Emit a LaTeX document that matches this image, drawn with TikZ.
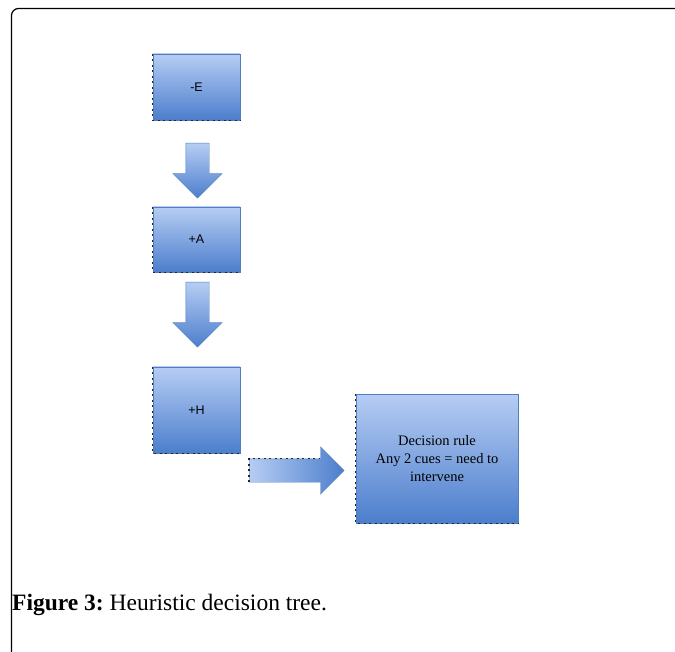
\documentclass[tikz,border=0pt]{standalone}
\usepackage{fontspec}
\setmainfont{Liberation Serif}
\setsansfont{Liberation Sans}
\usetikzlibrary{shapes.arrows}

\definecolor{cuelight}{RGB}{182,205,244}
\definecolor{cuedark}{RGB}{76,126,204}
\definecolor{cueline}{RGB}{80,125,190}

\tikzset{
  cuebox/.style={draw=cueline, top color=cuelight, bottom color=cuedark, line width=0.6pt,
    inner sep=0pt, minimum width=87pt, font=\sffamily\fontsize{12.5}{15}\selectfont},
  downarrow/.style={single arrow, shape border rotate=270, draw=cueline, line width=0.4pt,
    top color=cuelight, bottom color=cuedark, inner sep=11.5pt, anchor=tail,
    single arrow head extend=13pt, single arrow head indent=0pt, minimum height=55pt},
  rightarrow/.style={single arrow, draw=cueline, line width=0.4pt,
    left color=cuelight, right color=cuedark, inner sep=11.5pt, anchor=tail,
    single arrow head extend=12pt, single arrow head indent=0pt, minimum height=95pt},
  shadowline/.style={line width=1.3pt, dash pattern=on 2pt off 3.5pt, black!85}
}

\begin{document}
\begin{tikzpicture}[x=1pt, y=-1pt]
  \useasboundingbox (0,0) rectangle (675,652);
  % frame
  \draw[line width=1.2pt, rounded corners=7pt] (680,8.5) -- (11.5,8.5) -- (11.5,660);

  % cue boxes
  \node[cuebox, minimum height=66pt] (minusE) at (196.5,87) {-E};
  \node[cuebox, minimum height=65pt] (plusA) at (196.5,239.5) {+A};
  \node[cuebox, minimum height=86pt] (plusH) at (196.5,410) {+H};
  \node[cuebox, minimum width=162pt, minimum height=129pt, align=center,
    font=\fontsize{14.5}{18}\selectfont] (rule) at (437,458.5)
    {Decision rule\\Any 2 cues = need to\\intervene};

  % block arrows
  \node[downarrow] (arrowEA) at (197.5,143) {};
  \node[downarrow, minimum height=65pt] (arrowAH) at (197.5,282) {};
  \node[rightarrow] (arrowHR) at (249,470.5) {};

  % dotted edges
  \foreach \b in {minusE,plusA,plusH,rule}
    \draw[shadowline] (\b.north west) -- (\b.south west) -- (\b.south east);
  \draw[shadowline] (arrowHR.before tail) -- (arrowHR.after tail) -- (arrowHR.before head);

  % caption
  \node[anchor=base west, font=\fontsize{23.5}{28}\selectfont, inner sep=0pt] (caption) at (12,610)
    {\frenchspacing\textbf{Figure 3:} Heuristic decision tree.};
\end{tikzpicture}
\end{document}
